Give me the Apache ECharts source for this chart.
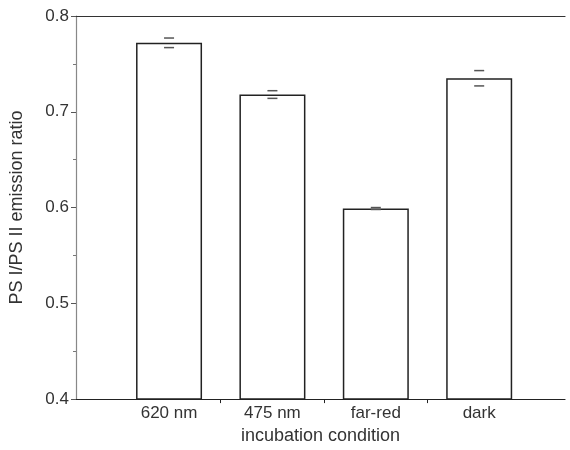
<!DOCTYPE html>
<html>
<head>
<meta charset="utf-8">
<script src="https://cdn.jsdelivr.net/npm/echarts@6/dist/echarts.min.js"></script>
<style>
  html, body { margin: 0; padding: 0; background: #fff; }
  #chart { width: 570px; height: 450px; }
</style>
</head>
<body>
<div id="chart"></div>
<script>
// ----------------------------------------
// data
// ----------------------------------------
const conditions = ["620 nm", "475 nm", "far-red", "dark"];
const ratios = [0.772, 0.718, 0.599, 0.735];
const errors = [0.005, 0.004, 0.001, 0.008];
const yTicks = [0.4, 0.5, 0.6, 0.7, 0.8];

const positions = conditions.map((_, i) => i + 1);

const chart = echarts.init(document.getElementById("chart"));

const font = "Liberation Sans, Arial, sans-serif";

chart.setOption({
  animation: false,
  backgroundColor: "#fff",
  grid: { left: 75, right: 5, top: 16, bottom: 46 },
  xAxis: [{
    type: "value",
    min: 0.1,
    max: 4.83,
    splitLine: { show: false },
    axisLine: { show: true, lineStyle: { color: "#222", width: 1.2 } },
    axisTick: {
      show: true,
      length: 4,
      customValues: [1.5, 2.5, 3.5],
      lineStyle: { color: "#222" }
    },
    axisLabel: {
      customValues: positions,
      formatter: v => conditions[Math.round(v) - 1] || "",
      color: "#333",
      fontFamily: font,
      fontSize: 17,
      margin: 6
    },
    name: "incubation condition",
    nameLocation: "middle",
    nameGap: 26,
    nameTextStyle: { color: "#333", fontFamily: font, fontSize: 18 }
  }, {
    type: "value",
    position: "top",
    min: 0.1,
    max: 4.83,
    splitLine: { show: false },
    axisLine: { show: true, lineStyle: { color: "#333", width: 1.2 } },
    axisTick: { show: false },
    axisLabel: { show: false }
  }],
  yAxis: {
    type: "value",
    min: yTicks[0],
    max: yTicks[yTicks.length - 1],
    interval: 0.1,
    splitLine: { show: false },
    axisLine: { show: true, lineStyle: { color: "#888", width: 1.2 } },
    axisTick: { show: true, length: 5, lineStyle: { color: "#555" } },
    minorTick: { show: true, splitNumber: 2, length: 3, lineStyle: { color: "#777" } },
    axisLabel: {
      formatter: v => v.toFixed(1),
      color: "#333",
      fontFamily: font,
      fontSize: 17,
      margin: 7
    },
    name: "PS I/PS II emission ratio",
    nameLocation: "middle",
    nameGap: 50,
    nameTextStyle: { color: "#333", fontFamily: font, fontSize: 18 }
  },
  series: [{
    type: "bar",
    barWidth: 66,
    data: positions.map((p, i) => [p, ratios[i]]),
    itemStyle: { color: "#fff", borderColor: "#222", borderWidth: 1.5 },
    z: 2
  }, {
    type: "custom",
    data: positions.map((p, i) => [p, ratios[i], errors[i]]),
    z: 3,
    renderItem: (params, api) => {
      const x = api.value(0);
      const y = api.value(1);
      const e = api.value(2);
      const hi = api.coord([x, y + e]);
      const lo = api.coord([x, y - e]);
      const half = 5;
      const style = { stroke: "#555", lineWidth: 1.5 };
      return {
        type: "group",
        children: [{
          type: "line",
          shape: { x1: hi[0] - half, y1: hi[1], x2: hi[0] + half, y2: hi[1] },
          style: style
        }, {
          type: "line",
          shape: { x1: lo[0] - half, y1: lo[1], x2: lo[0] + half, y2: lo[1] },
          style: style
        }]
      };
    }
  }]
});
</script>
</body>
</html>
